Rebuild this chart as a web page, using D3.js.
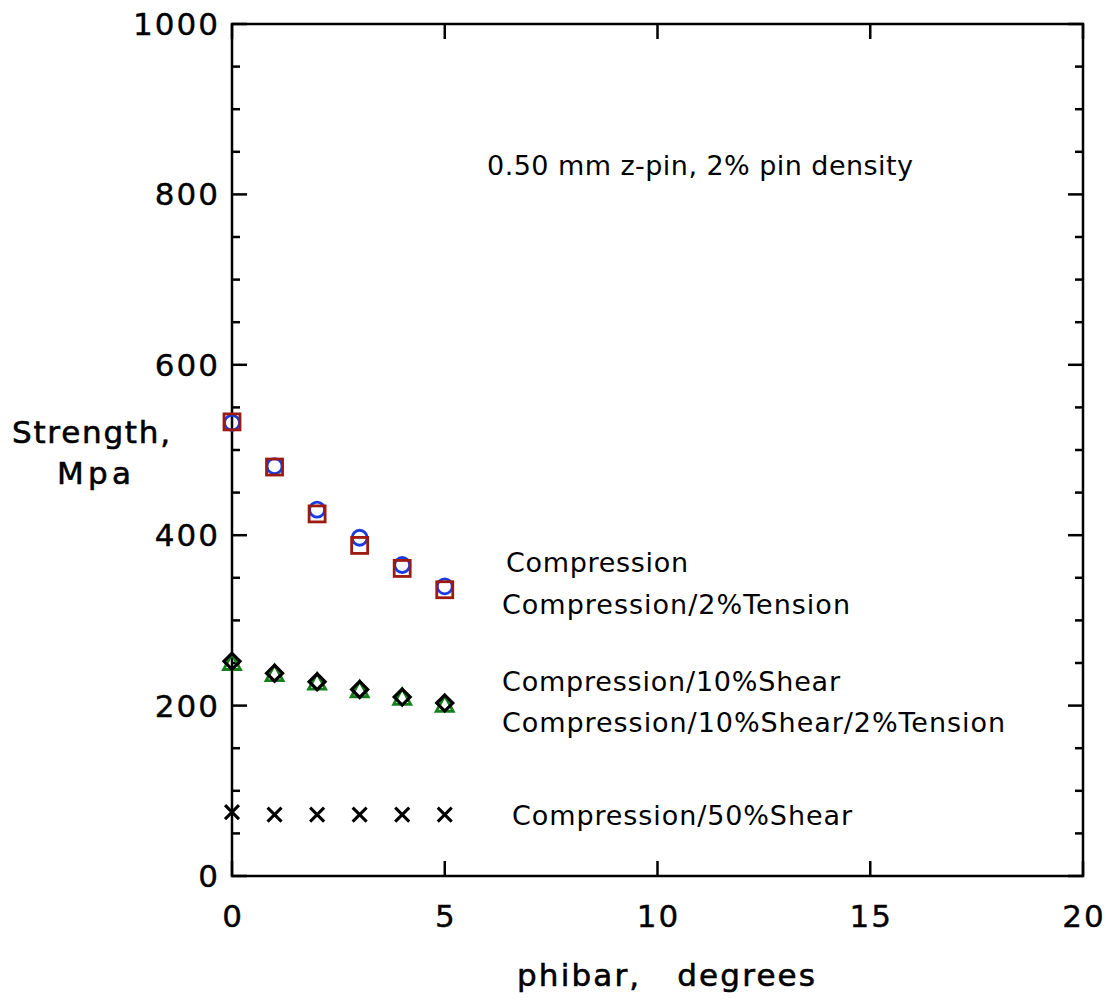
<!DOCTYPE html>
<html><head><meta charset="utf-8">
<script src="https://cdn.jsdelivr.net/npm/d3@7"></script>
<style>body{margin:0;background:#fff}svg{display:block}text{font-family:"DejaVu Sans",sans-serif;fill:#000}</style>
</head><body><svg id="c" width="1112" height="1001"></svg>
<script>
const phibar = [0, 1, 2, 3, 4, 5];
const compression = [532, 481, 430, 397, 365, 340];
const compTension = [533, 480, 425, 388, 361, 336];
const compShear10 = [250, 237, 227, 218, 209, 201];
const compShear10Tension = [252, 238, 228, 219, 210, 203];
const compShear50 = [75, 72, 72, 72, 72, 72];
const xTicks = [0, 5, 10, 15, 20];
const yTicks = [0, 200, 400, 600, 800, 1000];
const legendLabels = ["Compression", "Compression/2%Tension", "Compression/10%Shear", "Compression/10%Shear/2%Tension", "Compression/50%Shear"];

const svg = d3.select("#c");
const x = d3.scaleLinear().domain([0, 20]).range([232, 1083]);
const y = d3.scaleLinear().domain([0, 1000]).range([876, 24]);

// frame
svg.append("rect").attr("x", 232).attr("y", 24).attr("width", 851).attr("height", 852)
  .attr("fill", "none").attr("stroke", "#000").attr("stroke-width", 2.5);

const minorY = d3.range(0, 1001, 50).filter(v => v % 200 !== 0);
const g = svg.append("g").attr("stroke", "#000").attr("stroke-width", 2.5);
yTicks.forEach(v => {
  g.append("line").attr("x1", x(0)).attr("x2", x(0) + 15).attr("y1", y(v)).attr("y2", y(v));
  g.append("line").attr("x1", x(20)).attr("x2", x(20) - 15).attr("y1", y(v)).attr("y2", y(v));
});
minorY.forEach(v => {
  g.append("line").attr("x1", x(0)).attr("x2", x(0) + 8).attr("y1", y(v)).attr("y2", y(v));
  g.append("line").attr("x1", x(20)).attr("x2", x(20) - 8).attr("y1", y(v)).attr("y2", y(v));
});
xTicks.forEach(v => {
  g.append("line").attr("x1", x(v)).attr("x2", x(v)).attr("y1", y(0)).attr("y2", y(0) - 15);
  g.append("line").attr("x1", x(v)).attr("x2", x(v)).attr("y1", y(1000)).attr("y2", y(1000) + 15);
});

// tick labels
svg.append("g").selectAll("text").data(yTicks).join("text")
  .attr("x", 220).attr("y", d => y(d) + 11).attr("text-anchor", "end")
  .attr("font-size", 31).attr("letter-spacing", 2).attr("stroke", "#000").attr("stroke-width", 0.4).text(d => d);
svg.append("g").selectAll("text").data(xTicks).join("text")
  .attr("x", d => x(d) + 1).attr("y", 927).attr("text-anchor", "middle")
  .attr("font-size", 31).attr("letter-spacing", 2).attr("stroke", "#000").attr("stroke-width", 0.4).text(d => d);

// axis titles
svg.append("text").attr("x", 91).attr("y", 443).attr("text-anchor", "middle").attr("font-size", 31)
  .attr("stroke", "#000").attr("stroke-width", 0.6).attr("textLength", 158).text("Strength,");
svg.append("text").attr("x", 94).attr("y", 484).attr("text-anchor", "middle").attr("font-size", 31)
  .attr("stroke", "#000").attr("stroke-width", 0.6).attr("textLength", 74).text("Mpa");
svg.append("text").attr("x", 517).attr("y", 986).attr("font-size", 31)
  .attr("stroke", "#000").attr("stroke-width", 0.6).style("white-space", "pre")
  .attr("textLength", 298).text("phibar,   degrees");

// annotation
svg.append("text").attr("x", 487).attr("y", 175).attr("font-size", 27).attr("textLength", 426)
  .text("0.50 mm z-pin, 2% pin density");

// legend labels
const legPos = [[506, 572, 182], [502, 614, 348], [502, 691, 338], [502, 732, 503], [512, 825, 340]];
svg.append("g").selectAll("text").data(legendLabels).join("text")
  .attr("x", (d, i) => legPos[i][0]).attr("y", (d, i) => legPos[i][1])
  .attr("textLength", (d, i) => legPos[i][2]).attr("font-size", 27).text(d => d);

// markers
const pts = arr => arr.map((v, i) => [phibar[i], v]);
const m = svg.append("g");
m.selectAll("circle").data(pts(compression)).join("circle")
  .attr("cx", d => x(d[0])).attr("cy", d => y(d[1])).attr("r", 7.5)
  .attr("fill", "none").attr("stroke", "#1a3be0").attr("stroke-width", 2.8);
m.selectAll("rect.sq").data(pts(compTension)).join("rect").attr("class", "sq")
  .attr("x", d => x(d[0]) - 8).attr("y", d => y(d[1]) - 8).attr("width", 16).attr("height", 16)
  .attr("fill", "none").attr("stroke", "#9c1a10").attr("stroke-width", 2.8);
m.selectAll("path.tri").data(pts(compShear10)).join("path").attr("class", "tri")
  .attr("d", d => { const cx = x(d[0]), cy = y(d[1]); return `M${cx},${cy - 9}L${cx + 8.5},${cy + 6.5}L${cx - 8.5},${cy + 6.5}Z`; })
  .attr("fill", "none").attr("stroke", "#16801e").attr("stroke-width", 2.8);
m.selectAll("path.dia").data(pts(compShear10Tension)).join("path").attr("class", "dia")
  .attr("d", d => { const cx = x(d[0]), cy = y(d[1]); return `M${cx},${cy - 8}L${cx + 8},${cy}L${cx},${cy + 8}L${cx - 8},${cy}Z`; })
  .attr("fill", "none").attr("stroke", "#000").attr("stroke-width", 3.2);
m.selectAll("path.x").data(pts(compShear50)).join("path").attr("class", "x")
  .attr("d", d => { const cx = x(d[0]), cy = y(d[1]); return `M${cx - 7},${cy - 7}L${cx + 7},${cy + 7}M${cx + 7},${cy - 7}L${cx - 7},${cy + 7}`; })
  .attr("fill", "none").attr("stroke", "#000").attr("stroke-width", 3);
</script></body></html>
